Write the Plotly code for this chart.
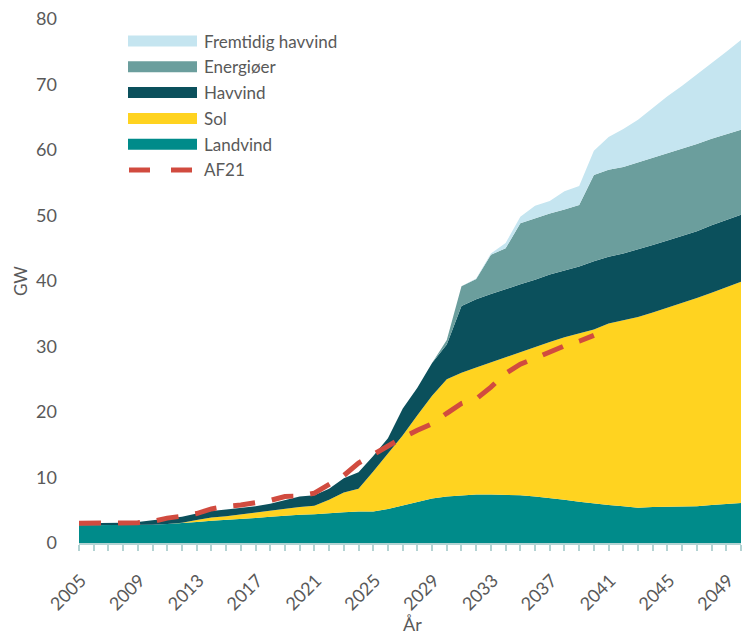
import plotly.graph_objects as go

years = list(range(2005, 2051))

landvind = [2.7, 2.7, 2.7, 2.7, 2.7, 2.8, 2.9, 3.0, 3.2, 3.4, 3.5, 3.7, 3.8, 4.0, 4.2, 4.3,
            4.4, 4.6, 4.7, 4.8, 4.8, 5.2, 5.7, 6.3, 6.8, 7.1, 7.3, 7.4, 7.4, 7.4, 7.3, 7.1,
            6.9, 6.6, 6.3, 6.0, 5.8, 5.6, 5.4, 5.5, 5.5, 5.5, 5.6, 5.8, 5.9, 6.1]
sol = [0, 0, 0, 0, 0, 0, 0, 0.1, 0.3, 0.5, 0.6, 0.7, 0.9, 1.0, 1.1, 1.2,
       1.3, 2.0, 3.0, 3.5, 6.1, 8.5, 10.7, 13.2, 15.7, 17.9, 18.7, 19.4, 20.2, 21.0, 21.8, 22.8,
       23.8, 24.8, 25.7, 26.6, 27.7, 28.4, 29.1, 29.7, 30.4, 31.1, 31.8, 32.4, 33.1, 33.8]
havvind = [0.3, 0.3, 0.3, 0.4, 0.5, 0.7, 0.8, 0.9, 1.0, 1.0, 1.0, 0.9, 0.9, 1.0, 1.2, 1.6,
           1.6, 1.7, 2.2, 2.5, 2.4, 2.3, 4.1, 4.2, 5.0, 5.3, 10.2, 10.4, 10.4, 10.4, 10.4, 10.3,
           10.3, 10.2, 10.2, 10.4, 10.2, 10.2, 10.3, 10.3, 10.3, 10.3, 10.2, 10.3, 10.3, 10.2]
energioer = [0] * 25 + [0.7, 3.0, 3.1, 6.0, 6.2, 9.3, 9.4,
                        9.3, 9.3, 9.4, 13.2, 13.3, 13.2, 13.3, 13.3, 13.3, 13.2, 13.3, 13.2, 13.1, 13.0]
fremtidig = [0] * 27 + [0.1, 0.2, 0.8, 1.0, 1.9,
                        1.9, 2.8, 2.9, 3.7, 5.0, 5.8, 6.5, 7.6, 8.7, 9.7, 10.6, 11.6, 12.6, 13.7]

af21_years = list(range(2005, 2041))
af21 = [3.0, 3.0, 3.0, 3.0, 3.1, 3.3, 3.8, 4.1, 4.5, 5.2, 5.6, 5.8, 6.1, 6.5, 7.1, 7.2,
        7.6, 9.0, 10.3, 12.2, 13.5, 14.9, 16.1, 17.2, 18.2, 19.8, 21.3, 22.0, 23.8, 25.9, 27.3, 28.2,
        29.2, 30.1, 30.8, 31.7]

x_ticks = list(range(2005, 2050, 4))

stack = [
    ("Landvind", landvind, "#008B8A"),
    ("Sol", sol, "#FFD320"),
    ("Havvind", havvind, "#0B505C"),
    ("Energiøer", energioer, "#6B9E9D"),
    ("Fremtidig havvind", fremtidig, "#C5E5F0"),
]
AF21_COLOR = "#D14B3F"
TEXT = "#595959"
AXIS = "#B3D3D3"
FONT = "Lato, 'Open Sans', sans-serif"

W, H = 742, 636
L, R, T, B = 79, 1, 19, 93

fig = go.Figure()
for name, vals, col in stack:
    fig.add_trace(go.Scatter(
        x=years, y=vals, name=name, stackgroup="one", mode="lines",
        line=dict(width=0, color=col), fillcolor=col, showlegend=False,
    ))

fig.add_trace(go.Scatter(
    x=af21_years, y=af21, name="AF21", mode="lines",
    line=dict(color=AF21_COLOR, width=5, dash="22px,17px"), showlegend=False,
))


# pixel positions -> paper coords
def px_x(v):
    return (v - L) / (W - L - R)


def px_y(v):
    return (H - B - v) / (H - T - B)


shapes = []
annotations = []
legend_rows = [(n, c) for n, _, c in reversed(stack)]
for i, (name, col) in enumerate(legend_rows):
    cy = 41 + i * 25.8
    shapes.append(dict(type="rect", xref="paper", yref="paper",
                       x0=px_x(128), x1=px_x(197), y0=px_y(cy + 5.5), y1=px_y(cy - 5.5),
                       fillcolor=col, line=dict(width=0), layer="above"))
    annotations.append(dict(text=name, xref="paper", yref="paper", x=px_x(202), y=px_y(cy),
                            xanchor="left", yanchor="middle", showarrow=False,
                            font=dict(size=17, color=TEXT, family=FONT)))

cy = 41 + 5 * 25.8
for x0, x1 in [(129, 150), (171, 192)]:
    shapes.append(dict(type="line", xref="paper", yref="paper",
                       x0=px_x(x0), x1=px_x(x1), y0=px_y(cy), y1=px_y(cy),
                       line=dict(color=AF21_COLOR, width=5), layer="above"))
annotations.append(dict(text="AF21", xref="paper", yref="paper", x=px_x(202), y=px_y(cy),
                        xanchor="left", yanchor="middle", showarrow=False,
                        font=dict(size=17, color=TEXT, family=FONT)))

# axis titles
annotations.append(dict(text="År", xref="paper", yref="paper", x=px_x(412), y=px_y(624),
                        xanchor="center", yanchor="middle", showarrow=False,
                        font=dict(size=18, color=TEXT, family=FONT)))
annotations.append(dict(text="GW", xref="paper", yref="paper", x=px_x(20), y=px_y(281),
                        xanchor="center", yanchor="middle", showarrow=False, textangle=-90,
                        font=dict(size=17, color=TEXT, family=FONT)))

fig.update_layout(
    width=W, height=H,
    margin=dict(l=L, r=R, t=T, b=B, autoexpand=False),
    paper_bgcolor="white",
    plot_bgcolor="white",
    font=dict(family=FONT, color=TEXT, size=17),
    showlegend=False,
    shapes=shapes,
    annotations=annotations,
    xaxis=dict(
        range=[2005, 2050],
        automargin=False,
        tickmode="array",
        tickvals=x_ticks,
        ticktext=[str(v) for v in x_ticks],
        tickangle=-45,
        tickfont=dict(size=18, color=TEXT),
        ticklabelstandoff=18,
        ticklabelshift=2,
        ticklabeloverflow="allow",
        showgrid=False,
        zeroline=False,
        showline=True,
        linecolor=AXIS,
        linewidth=2,
        ticks="",
        minor=dict(ticks="outside", dtick=1, ticklen=6, tickcolor=AXIS, tickwidth=2, tick0=2005),
    ),
    yaxis=dict(
        range=[0, 80],
        automargin=False,
        tickmode="array",
        tickvals=[0, 10, 20, 30, 40, 50, 60, 70, 80],
        showgrid=False,
        zeroline=False,
        showline=False,
        ticks="",
        tickfont=dict(size=18, color=TEXT),
        ticklabelstandoff=21,
        ticklabeloverflow="allow",
    ),
)

# drop the browser's default page margin so the figure sits at the corner
fig.write_html(
    "out.html",
    config={"displayModeBar": False},
    post_script="document.body.style.margin='0';document.body.style.overflow='hidden';",
)
